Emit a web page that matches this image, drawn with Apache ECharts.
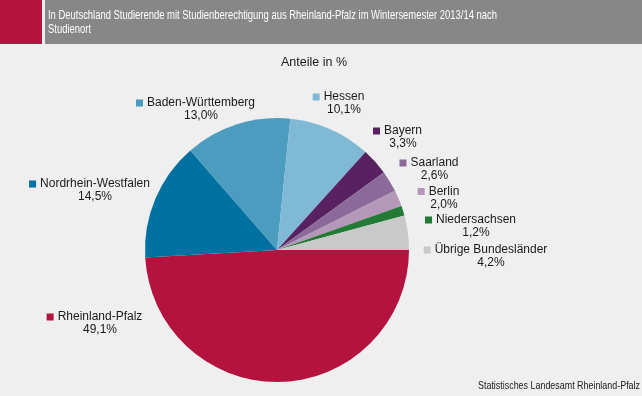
<!DOCTYPE html>
<html><head><meta charset="utf-8">
<script src="https://cdn.jsdelivr.net/npm/echarts@6/dist/echarts.min.js"></script>
<style>html,body{margin:0;padding:0;background:#eeefee;}#c{width:642px;height:396px;}</style>
</head><body><div id="c"></div>
<script>
const categories = ['Rheinland-Pfalz','Nordrhein-Westfalen','Baden-Württemberg','Hessen','Bayern','Saarland','Berlin','Niedersachsen','Übrige Bundesländer'];
const values = [49.1, 14.5, 13.0, 10.1, 3.3, 2.6, 2.0, 1.2, 4.2];
const colors = ['#b5133f','#0071a1','#4b9cbf','#80b9d5','#57225f','#8b6a9a','#b497b9','#237a35','#c9c9c9'];
const titleLines = ['In Deutschland Studierende mit Studienberechtigung aus Rheinland-Pfalz im Wintersemester 2013/14 nach','Studienort'];
const subtitle = 'Anteile in %';
const sourceText = 'Statistisches Landesamt Rheinland-Pfalz';
// label anchor: center of name text (x) and middle of the 2-line block (y)
const labelAnchor = {
  'Rheinland-Pfalz':[100,323.5], 'Nordrhein-Westfalen':[95,190.5], 'Baden-Württemberg':[201,109.5],
  'Hessen':[344,103.5], 'Bayern':[403,137.5], 'Saarland':[434.5,169.5], 'Berlin':[444,198],
  'Niedersachsen':[476,226.5], 'Übrige Bundesländer':[491,256.5]
};
const fmt = v => v.toFixed(1).replace('.', ',') + '%';
function measure(text, font){ const cv=document.createElement('canvas').getContext('2d'); cv.font=font; return cv.measureText(text).width; }
const titleFont = '13px "Liberation Sans", Arial';
const titleScale = 449 / measure(titleLines[0], titleFont);
const srcFont = '11px "Liberation Sans", Arial';
const srcScale = 162 / measure(sourceText, srcFont);
const chart = echarts.init(document.getElementById('c'), null, {renderer:'canvas'});
const FF = 'Liberation Sans';
const rich = {
  n:{fontFamily:FF,fontSize:12,color:'#1a1a1a',align:'center',lineHeight:13},
  v:{fontFamily:FF,fontSize:12,color:'#1a1a1a',align:'center',lineHeight:13},
  s:{width:11,height:7,align:'center'}
};
categories.forEach((c,i)=>{ rich['m'+i] = {width:7,height:7,backgroundColor:colors[i],align:'center'}; rich['g'+i]={width:4,align:'center'}; });
chart.setOption({
  backgroundColor:'#eeefee',
  animation:false,
  graphic:[
    {type:'rect',left:0,top:0,shape:{width:42,height:44},style:{fill:'#b5133f'}},
    {type:'rect',left:45,top:0,shape:{width:597,height:44},style:{fill:'#878787'}},
    {type:'text',x:48,y:8,scaleX:titleScale,style:{text:titleLines.join('\n'),fill:'#ffffff',font:titleFont,lineHeight:14}},
    {type:'text',x:281,y:56,style:{text:subtitle,fill:'#1a1a1a',font:'12.5px "Liberation Sans", Arial'}},
    {type:'text',x:478,y:380,scaleX:srcScale,style:{text:sourceText,fill:'#1a1a1a',font:srcFont}}
  ],
  series:[{
    type:'pie',
    center:[277,250],
    radius:132,
    startAngle:0,
    clockwise:true,
    data:categories.map((c,i)=>({name:c,value:values[i],itemStyle:{color:colors[i]}})),
    label:{
      show:true,
      position:'outside',
      overflow:'none',
      formatter:p=>'{m'+p.dataIndex+'|}{g'+p.dataIndex+'|}{n|'+p.name+'}\n{s|}{v|'+fmt(p.value)+'}',
      rich:rich
    },
    labelLine:{show:false},
    labelLayout:function(p){
      const a = labelAnchor[categories[p.dataIndex]];
      return {x:a[0]-5.5,y:a[1],align:'center',verticalAlign:'middle'};
    },
    emphasis:{disabled:true}
  }]
});
</script></body></html>
